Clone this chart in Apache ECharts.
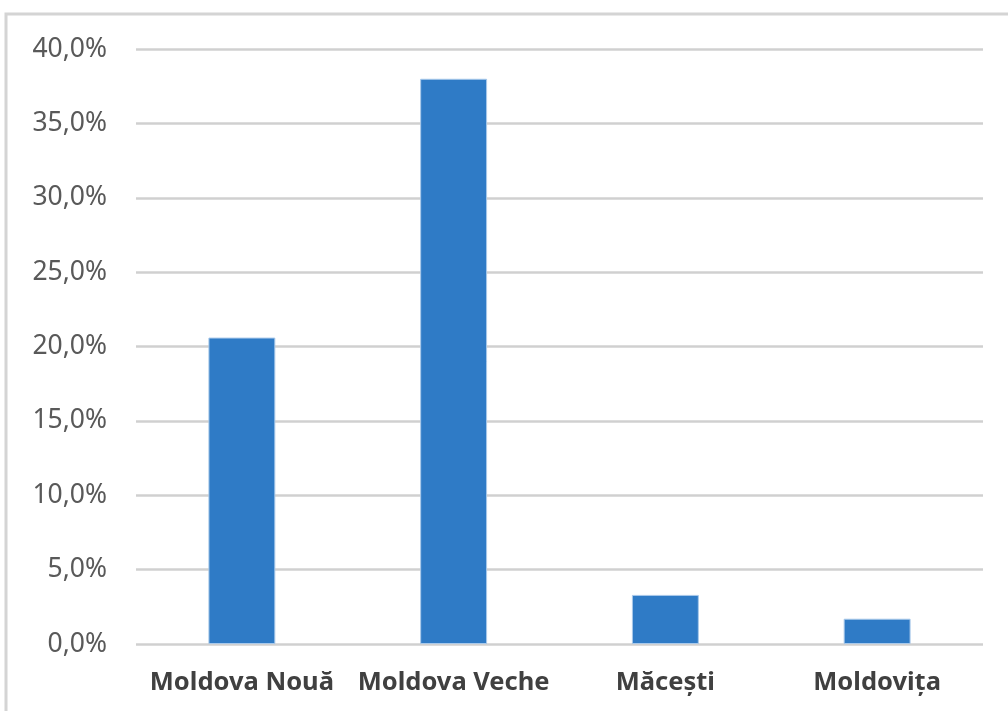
<!DOCTYPE html>
<html>
<head>
<meta charset="utf-8">
<script src="https://cdn.jsdelivr.net/npm/echarts@6/dist/echarts.min.js"></script>
<style>
  html, body { margin: 0; padding: 0; background: #ffffff; }
  #chart { width: 1008px; height: 711px; }
</style>
</head>
<body>
<div id="chart"></div>
<script>
// Localities and their shares (percent)
const categories = ['Moldova Nouă', 'Moldova Veche', 'Măcești', 'Moldovița'];
const shares = [20.6, 38.0, 3.3, 1.7];

// Value axis range and step (percent)
const axisMin = 0;
const axisMax = 40;
const axisStep = 5;

const chart = echarts.init(document.getElementById('chart'), null, { renderer: 'canvas' });

chart.setOption({
  animation: false,
  backgroundColor: '#ffffff',
  graphic: [
    {
      type: 'rect',
      silent: true,
      z: -10,
      shape: { x: 6, y: 14, width: 1100, height: 800 },
      style: { fill: 'none', stroke: '#d4d4d4', lineWidth: 3 }
    }
  ],
  grid: { left: 136, right: 25, top: 49, bottom: 67, containLabel: false },
  xAxis: {
    type: 'category',
    data: categories,
    axisLine: { show: false },
    axisTick: { show: false },
    axisLabel: {
      interval: 0,
      margin: 26,
      color: '#404040',
      fontFamily: 'Noto Sans',
      fontWeight: 'bold',
      fontSize: 25.5
    }
  },
  yAxis: {
    type: 'value',
    min: axisMin,
    max: axisMax,
    interval: axisStep,
    axisLine: { show: false },
    axisTick: { show: false },
    splitLine: { lineStyle: { color: '#d0d0d0', width: 2.5 } },
    axisLabel: {
      margin: 29,
      color: '#595959',
      fontFamily: 'Noto Sans',
      fontSize: 26.5,
      formatter: v => v.toFixed(1).replace('.', ',') + '%'
    }
  },
  series: [
    {
      type: 'bar',
      data: shares,
      barWidth: '31.6%',
      itemStyle: { color: '#2F7BC6', borderColor: '#a9c9ea', borderWidth: 1 }
    }
  ]
});
</script>
</body>
</html>
